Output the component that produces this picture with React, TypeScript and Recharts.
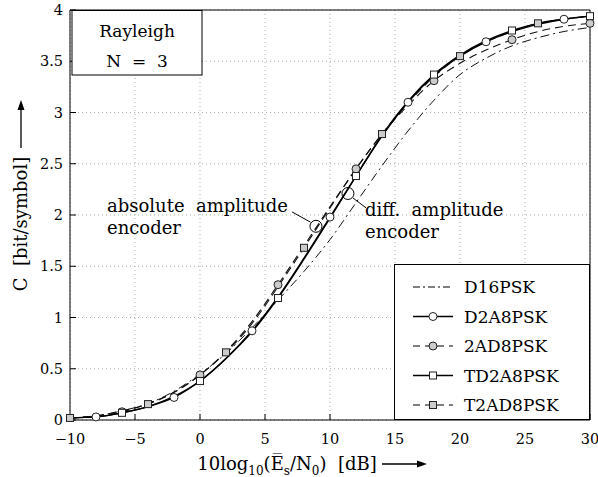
import React from 'react';
import { LineChart, Line, XAxis, YAxis, CartesianGrid, ReferenceDot, ReferenceLine, Legend } from 'recharts';

// Es/N0 in dB, 2 dB steps
const snr = [-10, -8, -6, -4, -2, 0, 2, 4, 6, 8, 10, 12, 14, 16, 18, 20, 22, 24, 26, 28, 30];

const d16psk = [0.02, 0.04, 0.09, 0.16, 0.28, 0.45, 0.65, 0.9, 1.17, 1.45, 1.76, 2.12, 2.48, 2.82, 3.12, 3.37, 3.53, 3.65, 3.73, 3.79, 3.83];
const d2a8psk = [0.02, 0.03, 0.07, 0.13, 0.22, 0.38, 0.6, 0.87, 1.2, 1.58, 1.98, 2.38, 2.77, 3.1, 3.36, 3.55, 3.69, 3.79, 3.86, 3.91, 3.94];
const ad8psk2 = [0.02, 0.04, 0.08, 0.16, 0.27, 0.44, 0.67, 0.96, 1.32, 1.7, 2.08, 2.45, 2.79, 3.07, 3.31, 3.48, 3.61, 3.71, 3.79, 3.84, 3.87];
const td2a8psk = [0.02, 0.03, 0.07, 0.13, 0.23, 0.38, 0.6, 0.86, 1.19, 1.57, 1.97, 2.38, 2.78, 3.11, 3.37, 3.56, 3.7, 3.8, 3.87, 3.91, 3.94];
const t2ad8psk = [0.02, 0.04, 0.09, 0.155, 0.27, 0.44, 0.66, 0.94, 1.3, 1.68, 2.07, 2.45, 2.79, 3.09, 3.35, 3.55, 3.69, 3.79, 3.87, 3.91, 3.94];

// where each curve carries a marker
const marksD2A8PSK = [-8, -2, 4, 10, 16, 22, 28];
const marks2AD8PSK = [-6, 0, 6, 12, 18, 24, 30];
const marksTD2A8PSK = [-6, 0, 6, 12, 18, 24, 30];
const marksT2AD8PSK = [-10, -4, 2, 8, 14, 20, 26];

const xTicks = [-10, -5, 0, 5, 10, 15, 20, 25, 30];
const yTicks = [0, 0.5, 1, 1.5, 2, 2.5, 3, 3.5, 4];

const data = snr.map((x, i) => ({
  x,
  D16PSK: d16psk[i],
  D2A8PSK: d2a8psk[i],
  '2AD8PSK': ad8psk2[i],
  TD2A8PSK: td2a8psk[i],
  T2AD8PSK: t2ad8psk[i],
}));

const FONT = '"DejaVu Serif", serif';

const circleDot = (marks: number[], fill: string) => (props: any) => {
  const { cx, cy, payload, index } = props;
  if (!marks.includes(payload.x)) return <g key={`n${index}`} />;
  return <circle key={`c${index}`} cx={cx} cy={cy} r={4} fill={fill} stroke="#222" strokeWidth={1} />;
};

const squareDot = (marks: number[], fill: string) => (props: any) => {
  const { cx, cy, payload, index } = props;
  if (!marks.includes(payload.x)) return <g key={`n${index}`} />;
  return <rect key={`s${index}`} x={cx - 3.5} y={cy - 3.5} width={7} height={7} fill={fill} stroke="#222" strokeWidth={1} />;
};

const legendItems = [
  { name: 'D16PSK', dash: '7 3 2 3', marker: null, fill: '' },
  { name: 'D2A8PSK', dash: '', marker: 'circle', fill: '#fff' },
  { name: '2AD8PSK', dash: '7 5', marker: 'circle', fill: '#ccc' },
  { name: 'TD2A8PSK', dash: '', marker: 'square', fill: '#fff' },
  { name: 'T2AD8PSK', dash: '7 5', marker: 'square', fill: '#ccc' },
];

const renderLegend = () => (
  <svg width={196} height={156} style={{ display: 'block' }}>
    <rect x={0.5} y={0.5} width={195} height={155} fill="#fff" stroke="#000" />
    {legendItems.map((it, i) => {
      const y = 23 + i * 29.5;
      return (
        <g key={it.name}>
          <line x1={19} x2={59} y1={y} y2={y} stroke="#000" strokeWidth={it.dash ? 1 : 1.3} strokeDasharray={it.dash || undefined} />
          {it.marker === 'circle' && <circle cx={39} cy={y} r={4} fill={it.fill} stroke="#222" />}
          {it.marker === 'square' && <rect x={35.5} y={y - 3.5} width={7} height={7} fill={it.fill} stroke="#222" />}
          <text x={70} y={y + 6} fontSize={17} fontFamily={FONT} fill="#000">{it.name}</text>
        </g>
      );
    })}
  </svg>
);

const fmtX = (v: number) => (v < 0 ? `\u2212${Math.abs(v)}` : String(v));

export default function App() {
  return (
    <div style={{ position: 'absolute', left: 0, top: 0, width: 598, height: 477, fontFamily: FONT, background: '#fff' }}>
      <LineChart width={598} height={477} data={data} margin={{ top: 9, right: 7, bottom: 27, left: 20 }}>
        <CartesianGrid stroke="#aaa" strokeDasharray="1 3" />
        <XAxis
          dataKey="x"
          type="number"
          domain={[-10, 30]}
          ticks={xTicks}
          tickFormatter={fmtX}
          height={30}
          stroke="#000"
          tickSize={-6}
          tickMargin={20}
          tick={{ fill: '#000', fontSize: 14.5, fontFamily: FONT }}
        />
        <XAxis xAxisId="top" orientation="top" dataKey="x" type="number" domain={[-10, 30]} ticks={xTicks} height={1} stroke="#000" tickSize={-6} tick={false} />
        <YAxis
          type="number"
          domain={[0, 4]}
          ticks={yTicks}
          width={50}
          stroke="#000"
          tickSize={-6}
          tickMargin={13}
          tick={{ fill: '#000', fontSize: 14.5, fontFamily: FONT }}
        />
        <YAxis yAxisId="right" orientation="right" type="number" domain={[0, 4]} ticks={yTicks} width={1} stroke="#000" tickSize={-6} tick={false} />
        <Line type="monotone" dataKey="D16PSK" stroke="#111" strokeWidth={1} strokeDasharray="9 4 2 4" dot={false} isAnimationActive={false} />
        <Line type="monotone" dataKey="2AD8PSK" stroke="#111" strokeWidth={1.1} strokeDasharray="8 5" dot={circleDot(marks2AD8PSK, '#ccc')} isAnimationActive={false} />
        <Line type="monotone" dataKey="T2AD8PSK" stroke="#111" strokeWidth={1.1} strokeDasharray="8 5" dot={squareDot(marksT2AD8PSK, '#ccc')} isAnimationActive={false} />
        <Line type="monotone" dataKey="D2A8PSK" stroke="#000" strokeWidth={1.4} dot={circleDot(marksD2A8PSK, '#fff')} isAnimationActive={false} />
        <Line type="monotone" dataKey="TD2A8PSK" stroke="#000" strokeWidth={1.4} dot={squareDot(marksTD2A8PSK, '#fff')} isAnimationActive={false} />
        <ReferenceLine segment={[{ x: 7.08, y: 2.03 }, { x: 8.5, y: 1.93 }]} stroke="#000" strokeWidth={1} />
        <ReferenceDot x={8.92} y={1.89} r={6} fill="none" stroke="#000" strokeWidth={1} />
        <ReferenceLine segment={[{ x: 11.77, y: 2.166 }, { x: 12.77, y: 2.07 }]} stroke="#000" strokeWidth={1} />
        <ReferenceDot x={11.38} y={2.21} r={6} fill="none" stroke="#000" strokeWidth={1} />
        <Legend
          verticalAlign="middle"
          layout="horizontal"
          content={renderLegend}
          wrapperStyle={{ position: 'absolute', left: 394, top: 264, width: 196, height: 156 }}
        />
      </LineChart>
      <svg width={598} height={477} style={{ position: 'absolute', left: 0, top: 0, pointerEvents: 'none' }} fontFamily={FONT} fontSize={18}>
        <rect x={72} y={10.5} width={130} height={64.5} fill="#fff" stroke="#000" />
        <text x={137} y={37} textAnchor="middle" fontSize={17}>Rayleigh</text>
        <text x={137} y={67} textAnchor="middle" fontSize={17} style={{ whiteSpace: 'pre' }}>N  =  3</text>

        <text x={107} y={212} fontSize={18} style={{ whiteSpace: 'pre' }}>absolute  amplitude</text>
        <text x={107} y={234} fontSize={18}>encoder</text>
        <text x={365} y={216} fontSize={18} style={{ whiteSpace: 'pre' }}>diff.  amplitude</text>
        <text x={365} y={238} fontSize={18}>encoder</text>

        <text transform="translate(27 224) rotate(-90)" textAnchor="middle" fontSize={18} style={{ whiteSpace: 'pre' }}>C  [bit/symbol]</text>
        <line x1={21} x2={21} y1={148} y2={108} stroke="#000" strokeWidth={1.3} />
        <polygon points="21,100 17.5,110 24.5,110" fill="#000" />

        <text x={287} y={470} textAnchor="middle" fontSize={18} style={{ whiteSpace: 'pre' }}>
          10log<tspan dy={5} fontSize={12}>10</tspan>
          <tspan dy={-5} fontSize={18}>(E{'\u0305'}</tspan>
          <tspan dy={5} fontSize={12}>s</tspan>
          <tspan dy={-5} fontSize={18}>/N</tspan>
          <tspan dy={5} fontSize={12}>0</tspan>
          <tspan dy={-5} fontSize={18}>)  [dB]</tspan>
        </text>
        <line x1={382} x2={418} y1={464} y2={464} stroke="#000" strokeWidth={1.3} />
        <polygon points="427,464 417,460.5 417,467.5" fill="#000" />
      </svg>
    </div>
  );
}
